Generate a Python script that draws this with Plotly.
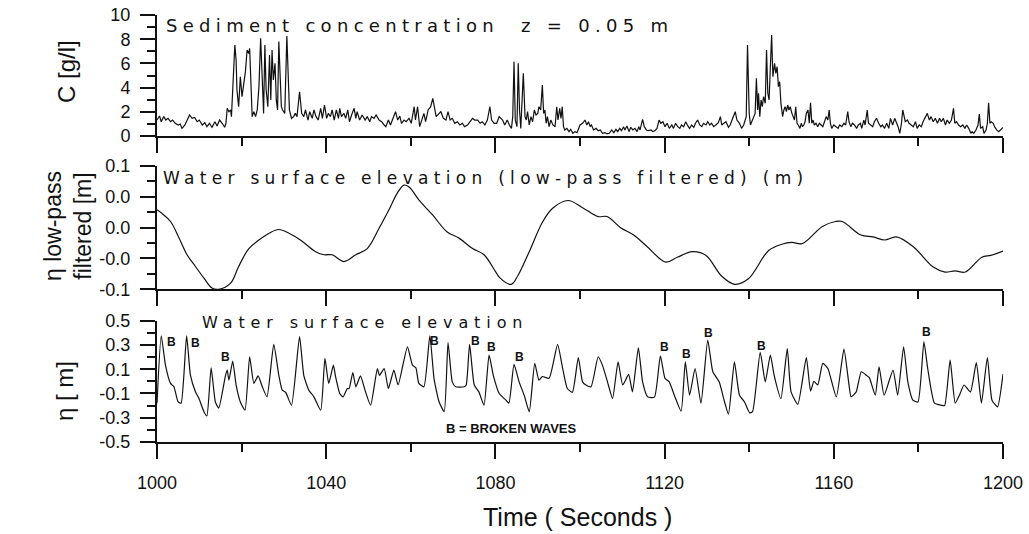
import plotly.graph_objects as go

# ---------------- data ----------------
# Sediment concentration (g/l) at z = 0.05 m
conc_t = [1000.0,1000.6,1001.0,1001.6,1002.1,1002.6,1003.2,1003.7,1004.3,1005.0,1005.5,1005.9,1006.6,1007.1,1007.7,1008.3,1008.9,1009.5,1010.0,1010.7,1011.3,1011.8,1012.4,1013.0,1013.7,1014.2,1014.8,1015.4,1016.0,1016.3,1016.6,1017.0,1017.4,1017.6,1018.4,1018.7,1018.9,1019.3,1019.7,1020.1,1020.5,1020.9,1021.3,1021.7,1021.9,1022.3,1022.5,1022.9,1023.3,1023.7,1024.1,1024.5,1024.9,1025.2,1025.5,1025.8,1026.2,1026.6,1026.9,1027.2,1027.5,1027.9,1028.2,1028.5,1028.8,1029.1,1029.4,1029.7,1030.2,1030.7,1031.0,1031.3,1031.8,1032.3,1032.7,1033.1,1033.7,1034.2,1034.7,1035.1,1035.7,1036.1,1036.7,1037.1,1037.6,1038.1,1038.7,1039.1,1039.6,1040.1,1040.5,1041.0,1041.4,1041.9,1042.4,1042.9,1043.2,1043.6,1044.2,1044.6,1045.1,1045.5,1046.0,1046.6,1047.0,1047.3,1047.9,1048.5,1049.2,1049.7,1050.3,1050.7,1051.3,1051.8,1052.5,1053.1,1053.7,1054.1,1054.7,1055.2,1055.8,1056.4,1056.9,1057.4,1057.8,1058.4,1058.9,1059.6,1060.1,1060.8,1061.1,1061.6,1062.1,1062.6,1063.1,1063.5,1064.1,1064.7,1065.2,1065.7,1066.0,1066.7,
          1067.1,1067.7,1068.3,1068.8,1069.3,1069.8,1070.4,1071.0,1071.6,1072.2,1072.7,1073.4,1074.0,1074.6,1075.1,1075.8,1076.4,1076.9,1077.5,1078.1,1078.7,1079.1,1079.7,1080.3,1080.9,1081.3,1081.7,1082.2,1082.8,1083.3,1083.8,1084.1,1084.4,1084.7,1085.1,1085.4,1085.7,1086.0,1086.3,1086.6,1087.0,1087.3,1087.6,1088.0,1088.4,1088.8,1089.2,1089.6,1090.0,1090.3,1090.7,1091.1,1091.4,1091.7,1092.0,1092.3,1092.7,1093.1,1093.6,1094.1,1094.5,1094.8,1095.2,1095.5,1095.8,1096.1,1096.4,1096.9,1097.4,1097.8,1098.3,1098.8,1099.3,1099.6,1100.0,1100.6,1101.2,1101.6,1102.0,1102.4,1102.7,1103.2,1103.8,1104.3,1104.8,1105.3,1105.9,1106.4,1106.9,1107.5,1108.0,1108.5,1108.9,1109.4,1109.8,1110.3,1110.6,1111.1,1111.6,1112.0,1112.5,1113.0,1113.5,1113.9,1114.2,1114.8,1115.2,1115.7,1116.1,1116.8,1117.2,1117.7,1118.2,1118.7,1119.1,1119.6,1120.1,1120.6,1121.1,1121.7,1122.1,1122.6,1123.1,1123.6,1124.0,1124.5,1125.0,1125.5,1125.9,1126.4,1126.9,1127.3,1127.8,1128.3,1128.8,1129.2,1129.8,1130.2,1130.7,1131.1,1131.6,1132.1,1132.7,1133.2,1133.5,1134.0,
          1134.5,1135.1,1135.5,1136.1,1136.7,1137.1,1137.7,1138.2,1138.7,1139.3,1139.6,1140.0,1140.3,1140.6,1141.1,1141.4,1141.7,1142.0,1142.2,1142.5,1142.8,1143.1,1143.4,1143.8,1144.1,1144.4,1144.7,1145.0,1145.3,1145.6,1146.0,1146.3,1146.6,1146.9,1147.2,1147.5,1147.9,1148.2,1148.5,1148.8,1149.1,1149.4,1149.7,1150.1,1150.4,1150.7,1151.0,1151.3,1151.6,1152.0,1152.3,1152.6,1152.9,1153.2,1153.5,1153.9,1154.2,1154.5,1154.8,1155.1,1155.4,1155.8,1156.2,1156.6,1157.0,1157.4,1157.8,1158.2,1158.6,1158.9,1159.2,1159.5,1160.0,1160.6,1161.0,1161.4,1161.9,1162.4,1162.8,1163.3,1163.6,1164.0,1164.4,1164.9,1165.4,1165.8,1166.3,1166.6,1167.1,1167.4,1167.9,1168.2,1168.7,1169.2,1169.6,1170.1,1170.6,1171.1,1171.5,1172.0,1172.5,1173.0,1173.4,1173.9,1174.4,1174.8,1175.2,1175.6,1176.0,1176.3,1176.6,1176.9,1177.4,1177.8,1178.3,1178.8,1179.3,1179.7,1180.2,1180.7,1181.1,1181.6,1182.1,1182.6,1183.0,1183.5,1184.0,1184.5,1185.0,1185.4,1185.9,1186.4,1186.8,1187.3,1187.8,1188.3,1188.6,1189.0,1189.5,1190.0,1190.5,1191.0,1191.4,1191.9,1192.4,1192.7,1193.1,1193.6,1194.1,1194.4,1194.7,1195.2,1195.5,1196.0,1196.3,1196.6,1196.9,1197.2,1197.7,1198.0,1198.5,1199.0,1199.5,1200.0]
conc_c = [1.32,1.65,1.18,1.60,1.32,1.46,1.18,1.32,1.05,0.91,0.99,0.63,0.91,1.32,1.74,1.46,1.54,1.18,1.32,0.91,1.10,0.77,1.05,0.72,1.18,0.83,1.32,1.05,0.72,1.05,2.29,2.01,2.15,1.60,7.52,6.28,3.80,2.42,4.90,3.25,4.49,5.32,7.11,6.83,7.25,3.53,1.60,2.01,1.60,2.15,4.08,8.07,4.90,1.87,7.52,3.80,2.42,6.69,2.98,7.11,4.63,6.01,2.98,2.15,7.80,4.08,2.42,2.15,1.87,8.26,4.90,2.15,1.46,1.60,1.87,1.60,3.66,1.87,1.60,2.15,1.32,2.01,1.46,2.15,1.60,1.32,2.29,1.46,2.56,1.46,1.87,1.60,2.15,1.32,2.15,1.46,2.29,1.60,1.87,1.46,2.15,1.18,1.74,2.29,1.46,2.01,1.32,1.74,1.32,1.60,1.18,1.60,1.46,1.74,1.32,1.18,0.91,0.77,1.32,0.91,1.46,2.01,1.32,1.65,1.05,1.32,1.18,1.46,1.05,2.42,1.32,2.42,0.77,1.32,1.87,1.18,2.15,2.42,3.11,2.15,1.60,1.87,
          2.01,1.46,1.32,2.01,1.32,1.46,1.05,1.18,0.91,1.05,0.77,0.91,1.18,1.46,1.32,1.32,1.05,1.18,0.91,1.32,2.42,1.32,1.05,1.05,1.60,1.46,1.32,0.91,1.32,0.91,0.63,1.60,6.14,1.32,0.77,6.01,2.15,0.63,2.70,5.18,1.60,1.32,2.01,0.91,1.60,1.18,2.15,1.74,1.87,2.42,2.15,4.21,1.87,2.15,1.05,1.60,0.77,1.32,0.91,0.77,2.42,1.32,2.29,1.46,2.42,0.77,0.50,0.63,0.36,0.55,0.22,0.36,0.28,0.63,0.91,1.05,1.32,0.91,1.18,0.77,0.91,0.50,0.63,0.44,0.50,0.22,0.28,0.17,0.22,0.50,0.28,0.55,0.36,0.63,0.44,0.77,0.50,0.83,0.36,0.72,0.50,0.63,0.36,0.77,0.50,1.38,0.77,0.50,0.44,0.50,0.36,0.44,0.63,1.32,1.05,1.18,0.77,1.05,0.63,0.91,0.63,1.05,0.77,0.63,0.91,0.77,1.18,0.83,0.63,0.91,0.72,1.05,1.32,0.91,0.77,1.05,0.91,1.18,0.91,1.05,0.77,0.91,1.10,1.60,0.91,1.05,
          1.18,0.72,0.91,1.46,2.01,1.32,1.05,0.63,0.91,1.60,7.52,1.87,0.91,1.18,1.60,1.87,4.77,2.15,3.53,1.60,2.98,2.42,3.25,2.70,7.11,3.53,2.98,6.28,8.35,4.90,6.01,5.18,5.73,4.08,4.49,2.70,1.60,2.15,2.42,2.01,2.56,2.15,2.42,1.87,1.60,1.32,2.42,1.05,0.91,0.63,1.05,0.77,0.91,1.18,1.87,2.15,1.05,2.75,1.05,1.32,0.91,1.05,0.77,1.05,0.91,0.77,1.18,1.60,1.32,2.15,1.05,0.63,0.91,0.77,0.63,0.91,0.77,1.05,0.91,2.01,1.18,0.77,1.05,0.91,0.63,0.91,1.05,0.63,1.32,0.91,2.15,1.05,0.91,0.77,1.18,1.46,1.05,0.77,0.91,0.63,1.05,0.63,1.46,0.91,1.46,1.18,0.77,0.22,1.05,2.15,1.60,1.18,1.32,1.05,0.91,0.77,1.18,0.63,0.91,0.77,1.18,1.60,1.87,1.32,1.60,1.18,1.46,1.05,1.46,1.18,1.46,0.91,1.32,1.05,1.32,2.29,1.05,1.18,0.91,0.77,0.91,0.63,0.91,0.63,0.22,0.36,0.22,0.50,0.91,1.82,0.63,0.77,0.22,0.50,1.05,2.75,1.05,1.18,1.05,0.77,0.50,0.36,0.50,0.70]

# Low-pass filtered water surface elevation (m)
lp_t = [1000.0,1001.2,1003.2,1005.1,1007.1,1009.1,1011.1,1013.0,1014.6,1017.4,1019.3,1021.7,1024.1,1026.5,1028.8,1031.2,1033.9,1037.5,1039.5,1041.4,1044.2,1047.0,1049.7,1052.5,1055.2,1056.8,1058.4,1059.6,1061.9,1065.1,1068.6,1071.4,1074.6,1077.3,1080.1,1081.0,1083.7,1085.3,1088.0,1091.2,1093.6,1097.2,1100.7,1104.3,1106.4,1109.6,1112.7,1115.9,1120.3,1123.0,1126.6,1129.8,1133.4,1136.6,1139.8,1144.6,1147.7,1150.1,1152.5,1157.3,1160.4,1162.0,1166.4,1169.3,1172.0,1174.8,1178.8,1183.5,1186.3,1188.7,1191.1,1195.0,1197.1,1200.0]
lp_eta = [0.029,0.023,0.010,-0.015,-0.044,-0.063,-0.082,-0.098,-0.100,-0.090,-0.063,-0.034,-0.020,-0.009,-0.003,-0.009,-0.020,-0.039,-0.044,-0.044,-0.055,-0.044,-0.034,-0.001,0.034,0.056,0.069,0.066,0.045,0.021,-0.007,-0.017,-0.034,-0.044,-0.072,-0.081,-0.092,-0.078,-0.039,0.010,0.032,0.044,0.032,0.018,0.018,0.000,-0.012,-0.031,-0.056,-0.048,-0.039,-0.045,-0.078,-0.092,-0.083,-0.037,-0.027,-0.024,-0.026,0.002,0.010,0.010,-0.012,-0.015,-0.020,-0.015,-0.031,-0.064,-0.072,-0.070,-0.072,-0.048,-0.045,-0.038]

# Water surface elevation (m)
wave_t = [1000.0,1001.0,1002.0,1003.2,1004.0,1005.0,1005.7,1007.0,1007.9,1009.1,1009.9,1011.1,1011.8,1012.8,1013.8,1014.6,1016.2,1016.6,1017.0,1017.9,1018.7,1019.7,1020.8,1021.9,1022.9,1023.9,1024.9,1026.0,1027.6,1028.8,1029.6,1030.4,1031.8,1033.7,1034.7,1035.9,1037.1,1038.7,1039.7,1040.6,1041.7,1042.2,1043.2,1044.0,1045.0,1045.4,1046.3,1047.0,1048.1,1049.3,1050.5,1052.1,1052.6,1053.7,1054.7,1056.0,1057.0,1059.2,1060.4,1061.2,1061.9,1063.1,1064.5,1065.5,1066.7,1067.9,1068.8,1069.8,1070.6,1072.6,1073.1,1073.9,1075.0,1076.1,1077.3,1078.5,1079.5,1080.9,1082.5,1083.2,1084.4,1085.6,1086.8,1088.0,1089.3,1090.3,1091.1,1092.7,1094.7,1095.9,1097.0,1098.2,1099.6,1100.6,1101.4,1102.6,1104.3,1105.3,1106.5,1107.7,1109.0,1110.1,1111.5,1112.4,1113.8,1114.8,1116.0,1117.6,1119.0,1120.1,1121.1,1122.3,1123.9,1124.9,1125.9,1127.2,1128.6,1130.2,1131.4,1132.9,1134.1,1135.1,1136.5,1137.7,1138.9,1140.1,1140.8,1142.6,1143.8,1145.0,1145.9,1147.5,1149.0,1149.9,1151.5,1153.5,1154.5,1155.3,1156.2,1157.4,1158.6,1160.6,1162.4,1163.5,1164.1,1165.3,1166.5,1167.7,1168.4,1169.8,1170.7,1171.9,1174.0,1175.1,1176.5,1177.5,1178.7,1179.9,1181.3,1182.2,1183.8,1185.4,1186.2,1187.5,1188.7,1189.7,1190.8,1192.3,1193.7,1194.9,1196.3,1197.4,1198.7,1200.0]
wave_eta = [-0.18,0.376,0.134,-0.017,-0.045,-0.17,-0.18,0.376,0.051,-0.087,-0.14,-0.25,-0.285,0.112,-0.17,-0.22,0.05,0.093,0.01,0.167,-0.03,-0.17,-0.238,0.203,-0.017,0.045,-0.045,-0.128,0.305,0.05,-0.073,-0.09,-0.197,0.368,0.05,-0.073,-0.128,-0.238,0.189,-0.017,0.134,0.04,-0.10,-0.128,-0.059,-0.06,0.073,-0.045,0.045,-0.087,-0.197,0.106,0.05,0.106,-0.059,0.093,-0.03,0.285,0.134,0.112,-0.017,-0.045,0.376,0.02,-0.17,-0.25,0.32,-0.004,-0.045,-0.045,-0.03,0.305,-0.03,-0.087,-0.197,0.217,0.05,-0.10,-0.155,-0.18,0.14,-0.004,-0.114,-0.25,0.148,0.01,0.04,0.025,0.305,0.106,-0.059,-0.09,0.196,-0.004,-0.03,-0.045,0.203,0.134,-0.004,-0.142,0.161,-0.03,0.057,-0.087,0.277,-0.004,-0.128,-0.13,0.21,0.025,-0.004,-0.114,-0.246,0.161,-0.114,0.106,-0.18,0.34,0.079,-0.004,-0.16,-0.27,0.161,-0.114,-0.17,-0.26,-0.25,0.239,-0.004,0.217,0.05,-0.142,0.27,-0.087,-0.19,0.196,-0.08,0.0,-0.03,0.148,0.106,-0.128,0.266,-0.004,-0.128,-0.087,0.079,0.05,0.03,-0.114,0.12,-0.114,0.093,-0.114,0.285,-0.004,-0.155,-0.17,0.326,0.106,-0.18,-0.197,-0.20,0.175,-0.18,-0.114,-0.03,-0.087,0.155,-0.18,0.196,-0.155,-0.21,0.06]

# Broken-wave markers
b_t = [1003.4,1009.2,1016.3,1065.7,1075.2,1079.1,1085.6,1119.9,1125.2,1130.3,1143.0,1182.0]
b_eta = [0.326,0.313,0.20,0.335,0.335,0.28,0.20,0.28,0.225,0.396,0.293,0.409]

# Tick labels
c_tickvals = [0, 2, 4, 6, 8, 10]
c_ticktext = ["0", "2", "4", "6", "8", "10"]
lp_tickvals = [-0.1, -0.05, 0.0, 0.05, 0.1]
lp_ticktext = ["-0.1", "-0.0", "0.0", "0.0", "0.1"]
w_tickvals = [-0.5, -0.3, -0.1, 0.1, 0.3, 0.5]
w_ticktext = ["-0.5", "-0.3", "-0.1", "0.1", "0.3", "0.5"]
x_tickvals = [1000, 1040, 1080, 1120, 1160, 1200]
x_ticktext = ["1000", "1040", "1080", "1120", "1160", "1200"]

# ---------------- figure ----------------
W, H = 1029, 534
L, R, T, B = 157, 26, 15, 92
PW, PH = W - L - R, H - T - B

def px_x(p):
    return (p - L) / PW

def px_y(p):
    return (H - B - p) / PH

BLACK = "#111111"
TICKFONT = dict(family="Liberation Sans, Arial, sans-serif", size=18, color=BLACK)
LINE_W = 1.2

fig = go.Figure()
fig.add_trace(go.Scatter(x=conc_t, y=conc_c, mode="lines", xaxis="x3", yaxis="y3",
                         line=dict(color=BLACK, width=LINE_W), showlegend=False))
fig.add_trace(go.Scatter(x=lp_t, y=lp_eta, mode="lines", xaxis="x2", yaxis="y2",
                         line=dict(color=BLACK, width=LINE_W, shape="spline", smoothing=1.0),
                         showlegend=False))
fig.add_trace(go.Scatter(x=wave_t, y=wave_eta, mode="lines", xaxis="x", yaxis="y",
                         line=dict(color=BLACK, width=LINE_W, shape="spline", smoothing=0.5),
                         showlegend=False))

def xaxis_common(labels, anchor):
    d = dict(range=[1000, 1200], tickmode="array", tickvals=x_tickvals, ticktext=x_ticktext,
             ticks="outside", ticklen=15, tickwidth=2, tickcolor=BLACK,
             showline=True, linewidth=2, linecolor=BLACK, showgrid=False, zeroline=False,
             showticklabels=labels, tickfont=TICKFONT, anchor=anchor, automargin=False,
             minor=dict(tickmode="linear", tick0=1000, dtick=20, ticks="outside",
                        ticklen=8, tickwidth=2, tickcolor=BLACK))
    return d

def yaxis_common(domain, rng, tv, tt, minor_dtick, anchor):
    return dict(domain=domain, range=rng, tickmode="array", tickvals=tv, ticktext=tt,
                ticks="outside", ticklen=15, tickwidth=2, tickcolor=BLACK,
                showline=True, linewidth=2, linecolor=BLACK, showgrid=False, zeroline=False,
                tickfont=dict(family="Liberation Sans, Arial, sans-serif", size=18, color=BLACK),
                anchor=anchor, ticklabelstandoff=6, automargin=False,
                minor=dict(tickmode="linear", tick0=rng[0], dtick=minor_dtick, ticks="outside",
                           ticklen=8, tickwidth=2, tickcolor=BLACK))

dom_bot = [0, px_y(320.7)]
dom_mid = [px_y(289.3), px_y(166)]
dom_top = [px_y(136), 1]

fig.update_layout(
    width=W, height=H,
    margin=dict(l=L, r=R, t=T, b=B),
    paper_bgcolor="white", plot_bgcolor="white",
    xaxis=xaxis_common(True, "y"),
    xaxis2=xaxis_common(False, "y2"),
    xaxis3=xaxis_common(False, "y3"),
    yaxis=yaxis_common(dom_bot, [-0.5, 0.5], w_tickvals, w_ticktext, 0.1, "x"),
    yaxis2=yaxis_common(dom_mid, [-0.1, 0.1], lp_tickvals, lp_ticktext, 0.025, "x2"),
    yaxis3=yaxis_common(dom_top, [0, 10], c_tickvals, c_ticktext, 1, "x3"),
)
fig.layout.xaxis2.matches = "x"
fig.layout.xaxis3.matches = "x"
fig.layout.xaxis.ticklabelstandoff = 8

TITLE_FONT = dict(family="DejaVu Sans, Verdana, sans-serif", size=18, color=BLACK)

def spaced(text, sp):
    return '<span style="letter-spacing:%spx">%s</span>' % (sp, text)

ann = []
ann.append(dict(text=spaced("Sediment concentration\u00a0\u00a0z = 0.05 m", 5.3),
                xref="paper", yref="paper", x=px_x(164), y=px_y(25.5),
                xanchor="left", yanchor="middle", showarrow=False, font=TITLE_FONT))
ann.append(dict(text=spaced("Water surface elevation (low-pass filtered) (m)", 5.3),
                xref="paper", yref="paper", x=px_x(161), y=px_y(177.5),
                xanchor="left", yanchor="middle", showarrow=False,
                font=dict(TITLE_FONT, size=17)))
ann.append(dict(text=spaced("Water surface elevation", 5.9),
                xref="paper", yref="paper", x=px_x(200.5), y=px_y(322.8),
                xanchor="left", yanchor="middle", showarrow=False, borderpad=0,
                font=dict(TITLE_FONT, size=16)))

YT_FONT = dict(family="Liberation Sans, Arial, sans-serif", size=24, color=BLACK)
ann.append(dict(text="C [g/l]", xref="paper", yref="paper", x=px_x(66), y=px_y(72),
                xanchor="center", yanchor="middle", textangle=-90, showarrow=False, font=YT_FONT))
ann.append(dict(text="\u03b7 low-pass<br>filtered [m]", xref="paper", yref="paper",
                x=px_x(68), y=px_y(226), xanchor="center", yanchor="middle", textangle=-90,
                showarrow=False, font=dict(YT_FONT, size=23)))
ann.append(dict(text="\u03b7 [ m]", xref="paper", yref="paper", x=px_x(64), y=px_y(391),
                xanchor="center", yanchor="middle", textangle=-90, showarrow=False, font=YT_FONT))
ann.append(dict(text="Time ( Seconds )", xref="paper", yref="paper", x=px_x(577), y=px_y(517),
                xanchor="center", yanchor="middle", showarrow=False,
                font=dict(family="Liberation Sans, Arial, sans-serif", size=25, color=BLACK)))

for bt, be in zip(b_t, b_eta):
    ann.append(dict(text="<b>B</b>", x=bt, y=be, xref="x", yref="y", showarrow=False,
                    xanchor="center", yanchor="middle", borderpad=0,
                    font=dict(family="Liberation Sans, Arial, sans-serif", size=12, color=BLACK)))
ann.append(dict(text="<b>B = BROKEN WAVES</b>", x=1083.8, y=-0.389, xref="x", yref="y",
                showarrow=False, xanchor="center", yanchor="middle",
                font=dict(family="Liberation Sans, Arial, sans-serif", size=13, color=BLACK)))

fig.update_layout(annotations=ann)
fig.write_html("out.html", config={"displayModeBar": False},
               post_script="document.body.style.margin='0px';document.body.style.overflow='hidden';")
